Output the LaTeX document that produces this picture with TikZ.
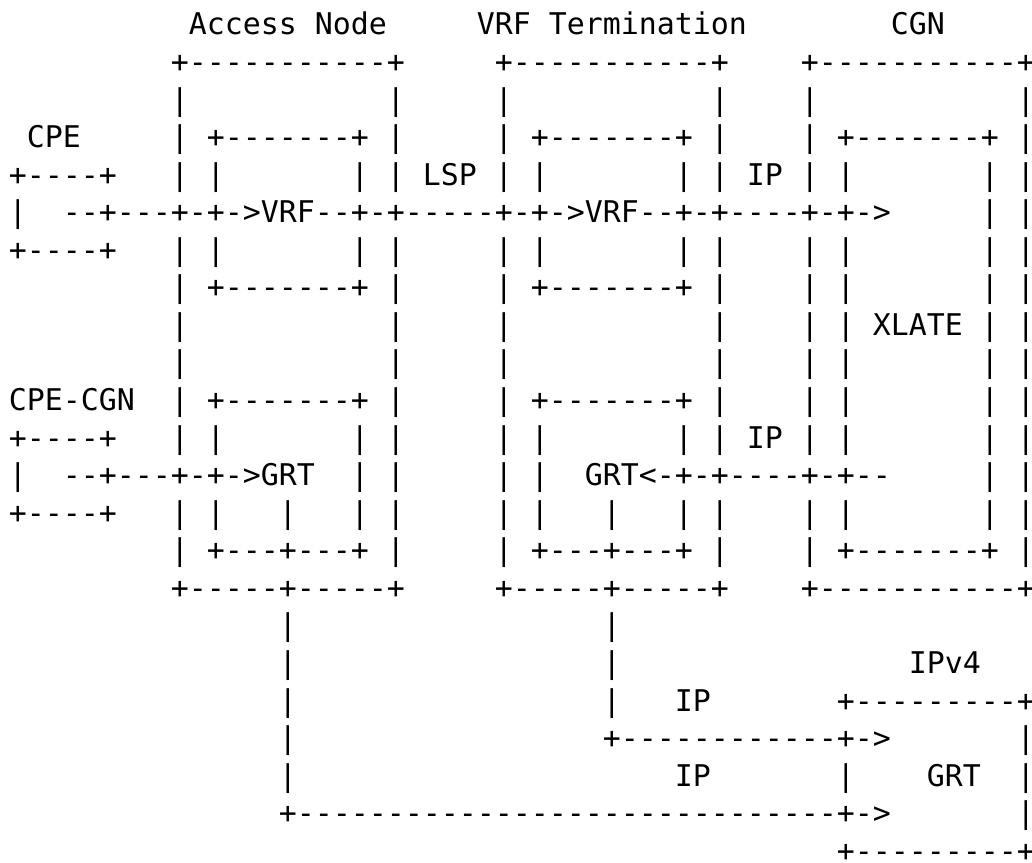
\documentclass[tikz,border=0pt]{standalone}
\usepackage{fontspec}
\setmonofont{DejaVu Sans Mono}
\usepackage{tikz}

\newlength{\colw}
\setlength{\colw}{9pt}
\newcommand{\colgap}[1]{\hspace*{#1\colw}}

\begin{document}
\begin{tikzpicture}[x=9pt,y=-18.78pt]
\tikzstyle{art} = [anchor=base west, inner sep=0pt, font=\ttfamily\fontsize{14.949pt}{18pt}\selectfont]
\path[use as bounding box, fill=white] (-0.472,0.07) rectangle (56.861,23.02);
%
	\node[art] (titles) at (10,1) {Access~Node\colgap{5}VRF~Termination\colgap{8}CGN};
	\node[art] (row2) at (9,2) {+-----------+\colgap{5}+-----------+\colgap{4}+-----------+};
	\node[art] (row3) at (9,3) {|\colgap{11}|\colgap{5}|\colgap{11}|\colgap{4}|\colgap{11}|};
	\node[art] (row4) at (1,4) {CPE\colgap{5}|~+-------+~|\colgap{5}|~+-------+~|\colgap{4}|~+-------+~|};
	\node[art] (row5) at (0,5) {+----+\colgap{3}|~|\colgap{7}|~|~LSP~|~|\colgap{7}|~|~IP~|~|\colgap{7}|~|};
	\node[art] (row6) at (0,6) {|\colgap{2}--+---+-+->VRF--+-+-----+-+->VRF--+-+----+-+->\colgap{5}|~|};
	\node[art] (row7) at (0,7) {+----+\colgap{3}|~|\colgap{7}|~|\colgap{5}|~|\colgap{7}|~|\colgap{4}|~|\colgap{7}|~|};
	\node[art] (row8) at (9,8) {|~+-------+~|\colgap{5}|~+-------+~|\colgap{4}|~|\colgap{7}|~|};
	\node[art] (row9) at (9,9) {|\colgap{11}|\colgap{5}|\colgap{11}|\colgap{4}|~|~XLATE~|~|};
	\node[art] (row10) at (9,10) {|\colgap{11}|\colgap{5}|\colgap{11}|\colgap{4}|~|\colgap{7}|~|};
	\node[art] (row11) at (0,11) {CPE-CGN\colgap{2}|~+-------+~|\colgap{5}|~+-------+~|\colgap{4}|~|\colgap{7}|~|};
	\node[art] (row12) at (0,12) {+----+\colgap{3}|~|\colgap{7}|~|\colgap{5}|~|\colgap{7}|~|~IP~|~|\colgap{7}|~|};
	\node[art] (row13) at (0,13) {|\colgap{2}--+---+-+->GRT\colgap{2}|~|\colgap{5}|~|\colgap{2}GRT<-+-+----+-+--\colgap{5}|~|};
	\node[art] (row14) at (0,14) {+----+\colgap{3}|~|\colgap{3}|\colgap{3}|~|\colgap{5}|~|\colgap{3}|\colgap{3}|~|\colgap{4}|~|\colgap{7}|~|};
	\node[art] (row15) at (9,15) {|~+---+---+~|\colgap{5}|~+---+---+~|\colgap{4}|~+-------+~|};
	\node[art] (row16) at (9,16) {+-----+-----+\colgap{5}+-----+-----+\colgap{4}+-----------+};
	\node[art] (row17) at (15,17) {|\colgap{17}|};
	\node[art] (row18) at (15,18) {|\colgap{17}|\colgap{16}IPv4};
	\node[art] (row19) at (15,19) {|\colgap{17}|\colgap{3}IP\colgap{7}+---------+};
	\node[art] (row20) at (15,20) {|\colgap{17}+------------+->\colgap{7}|};
	\node[art] (row21) at (15,21) {|\colgap{21}IP\colgap{7}|\colgap{4}GRT\colgap{2}|};
	\node[art] (row22) at (15,22) {+------------------------------+->\colgap{7}|};
	\node[art] (row23) at (46,23) {+---------+};
\end{tikzpicture}
\end{document}
